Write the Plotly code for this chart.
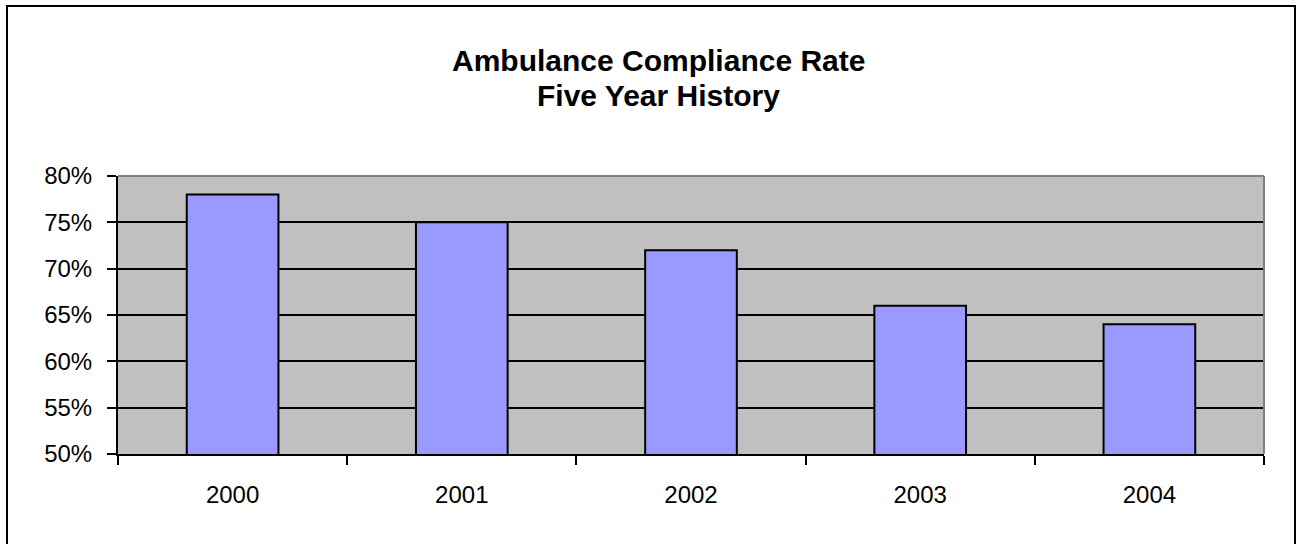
import plotly.graph_objects as go

years = ["2000", "2001", "2002", "2003", "2004"]
rates = [78, 75, 72, 66, 64]
y_ticks = [50, 55, 60, 65, 70, 75, 80]
y_labels = [f"{v}%" for v in y_ticks]
title_lines = ["Ambulance Compliance Rate", "Five Year History"]

W, H = 1297, 544
L, R, T, B = 118, 33, 176, 90

fig = go.Figure()
fig.add_trace(go.Bar(
    x=years, y=rates, width=0.4,
    marker=dict(color="#9999FF", line=dict(color="black", width=2)),
))

pw = W - L - R
ph = H - T - B

# outer chart frame
fig.add_shape(type="rect", xref="paper", yref="paper",
              x0=(7 - L) / pw, x1=(1295 - L) / pw,
              y0=-0.6, y1=(H - B - 6) / ph,
              line=dict(color="black", width=2), layer="below")
# gray top/right plot border
fig.add_shape(type="line", xref="paper", yref="paper", x0=0, x1=1, y0=1, y1=1,
              line=dict(color="#808080", width=2), layer="above")
fig.add_shape(type="line", xref="paper", yref="paper", x0=1, x1=1, y0=0, y1=1,
              line=dict(color="#808080", width=2), layer="above")

# two-line title as annotations for exact placement
for text, yc in zip(title_lines, [61, 95]):
    fig.add_annotation(
        text=f"<b>{text}</b>", showarrow=False,
        xref="paper", yref="paper",
        x=(658 - L) / pw, y=(H - B - yc) / ph,
        xanchor="center", yanchor="middle",
        font=dict(size=30, color="black"),
    )

fig.update_layout(
    width=W, height=H,
    margin=dict(l=L, r=R, t=T, b=B),
    paper_bgcolor="white",
    plot_bgcolor="#C0C0C0",
    showlegend=False,
    bargap=0.6,
    font=dict(family="Liberation Sans, Arial, sans-serif", color="black", size=24),
    xaxis=dict(
        type="category", showgrid=False, showline=True, linecolor="black", linewidth=2,
        ticks="outside", tickson="boundaries", ticklen=9, tickwidth=2, tickcolor="black",
        ticklabelstandoff=18, zeroline=False,
    ),
    yaxis=dict(
        range=[50, 80], tickvals=y_ticks, ticktext=y_labels,
        showgrid=True, gridcolor="black", gridwidth=2,
        showline=True, linecolor="black", linewidth=2,
        ticks="outside", ticklen=9, tickwidth=2, tickcolor="black",
        ticklabelstandoff=10, zeroline=False,
    ),
)

fig.write_html("out.html", config={"displayModeBar": False},
               post_script="document.body.style.margin='0';")
